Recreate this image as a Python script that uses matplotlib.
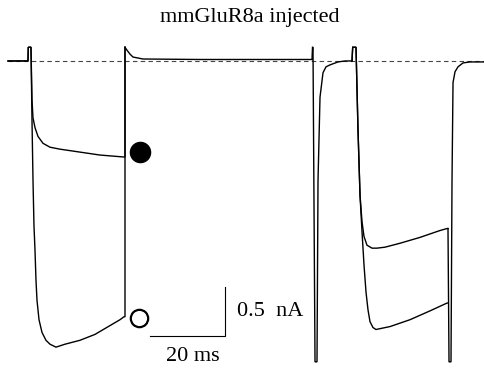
import matplotlib.pyplot as plt

plt.rcParams['font.family'] = ['Liberation Serif', 'DejaVu Serif']

# left protocol, traces (time in ms, current in nA)
t_left_filled = [0.0, 5.33, 5.41, 6.13, 6.4, 6.67, 7.2, 8.0, 9.33, 11.2, 13.87,
                 19.2, 24.53, 30.93, 31.2, 31.2]
i_left_filled = [0.0, 0.0, 0.14, 0.14, -0.40, -0.58, -0.68, -0.77, -0.84, -0.88,
                 -0.90, -0.93, -0.96, -0.98, -0.98, 0.14]

t_left_open = [0.0, 5.33, 5.41, 6.13, 6.4, 6.67, 6.93, 7.2, 7.47, 7.73, 8.27,
               9.07, 10.13, 11.2, 12.8, 15.2, 19.2, 23.2, 27.2, 29.87, 30.93, 31.2, 31.2]
i_left_open = [0.0, 0.0, 0.14, 0.14, -0.60, -1.22, -1.68, -1.93, -2.24, -2.44,
               -2.64, -2.77, -2.85, -2.89, -2.92, -2.89, -2.85, -2.79, -2.70, -2.64,
               -2.61, -2.61, 0.14]

# shared step back, tail and recovery of the left traces
t_left_tail = [31.2, 31.73, 32.53, 33.33, 34.67, 36.0, 51.2, 81.07, 81.2, 81.33, 81.87,
               82.4, 82.67, 83.2, 84.0, 84.8, 85.87, 88.0, 89.87, 91.73]
i_left_tail = [0.14, 0.11, 0.07, 0.04, 0.03, 0.02, 0.015, 0.015, 0.14, 0.14, -3.07,
               -3.07, -1.22, -0.37, -0.12, -0.06, -0.04, -0.01, 0.0, 0.0]

# right protocol
t_right_a = [91.73, 91.92, 92.8, 93.33, 93.87, 94.4, 94.93, 95.73, 97.07, 98.4, 100.53,
             104.53, 109.87, 115.2, 117.07, 117.33]
i_right_a = [0.0, 0.14, 0.14, -0.70, -1.37, -1.64, -1.79, -1.88, -1.91, -1.91, -1.90,
             -1.86, -1.80, -1.73, -1.71, -1.71]

t_right_b = [91.73, 91.92, 92.8, 93.33, 93.87, 94.4, 94.93, 95.47, 96.0, 96.53, 97.33,
             98.13, 101.87, 107.2, 112.53, 117.07, 117.33]
i_right_b = [0.0, 0.14, 0.14, -0.70, -1.37, -1.74, -2.08, -2.36, -2.54, -2.66, -2.72,
             -2.74, -2.71, -2.64, -2.55, -2.47, -2.47]

t_right_tail = [117.33, 117.6, 118.13, 118.4, 118.67, 119.2, 120.0, 121.33, 123.2, 126.93]
i_right_tail = [-1.71, -3.07, -3.07, -1.22, -0.22, -0.11, -0.06, -0.02, -0.01, -0.01]

# markers for the two left traces
filled_mark = (35.2, -0.93)
open_mark = (34.93, -2.62)

# scale bar: 20 ms, 0.5 nA
bar_t0, bar_i0 = 37.87, -2.81
bar_ms, bar_na = 20, 0.5

fig = plt.figure(figsize=(4.84, 3.74), dpi=100)
ax = fig.add_axes([0, 0, 1, 1])
ax.set_xlim(-2.13, 126.93)
ax.set_ylim(-3.194, 0.622)
ax.axis('off')

ax.plot([0, 126.93], [0, 0], color='#444444', lw=0.8, dashes=(4, 3))

lw = 1.0
for t, i in [(t_left_filled, i_left_filled), (t_left_open, i_left_open),
             (t_left_tail, i_left_tail), (t_right_a, i_right_a),
             (t_right_b, i_right_b), (t_right_tail, i_right_tail)]:
    ax.plot(t, i, color='black', lw=lw, solid_joinstyle='miter')

ax.plot(*filled_mark, 'o', color='black', ms=14.5)
ax.plot(*open_mark, 'o', mfc='white', mec='black', mew=1.6, ms=12.5)

ax.plot([bar_t0, bar_t0 + bar_ms, bar_t0 + bar_ms], [bar_i0, bar_i0, bar_i0 + bar_na],
        color='black', lw=0.8)
ax.text(61.07, -2.56, '0.5  nA', fontsize=16, ha='left', va='center')
ax.text(49.3, -3.02, '20 ms', fontsize=16, ha='center', va='center')

fig.text(0.517, 0.952, 'mmGluR8a injected', fontsize=16, ha='center', va='center')

fig.savefig('out.png', dpi=100)
